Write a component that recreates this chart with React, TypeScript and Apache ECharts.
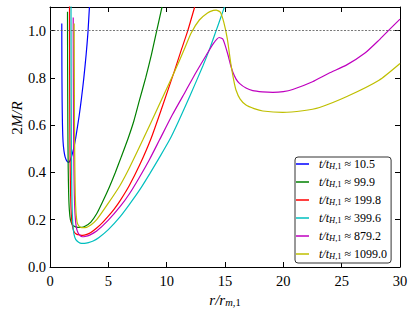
import React, { useEffect, useRef } from 'react';
import * as echarts from 'echarts';

const FONT = 'Liberation Serif';

// t / t_{H,1} values shown in the legend
const tValues = ['10.5', '99.9', '199.8', '399.6', '879.2', '1099.0'];
const colors = ['#0000ff', '#008000', '#ff0000', '#00bfbf', '#bf00bf', '#bfbf00'];

const blueX = [1.01, 1.02, 1.04, 1.07, 1.12, 1.2, 1.3, 1.45, 1.6, 1.72, 1.85, 2.0, 2.2, 2.5, 2.7, 2.9, 3.1, 3.25, 3.38];
const blueY = [1.03, 0.85, 0.7, 0.6, 0.53, 0.49, 0.465, 0.448, 0.443, 0.45, 0.468, 0.495, 0.545, 0.64, 0.715, 0.8, 0.9, 0.99, 1.1];

const greenX = [1.5, 1.51, 1.53, 1.56, 1.6, 1.66, 1.75, 1.9, 2.1, 2.4, 2.7, 3.0, 3.5, 4.0, 4.5, 5.1, 5.6, 6.1, 6.7, 7.2, 7.67, 8.2, 8.7, 9.15, 9.6];
const greenY = [1.08, 0.85, 0.6, 0.42, 0.31, 0.24, 0.2, 0.18, 0.172, 0.168, 0.168, 0.172, 0.19, 0.225, 0.275, 0.34, 0.4, 0.465, 0.545, 0.62, 0.706, 0.8, 0.9, 1.0, 1.1];

const redX = [1.67, 1.68, 1.7, 1.73, 1.77, 1.83, 1.92, 2.05, 2.3, 2.6, 2.8, 3.1, 3.5, 4.0, 4.5, 5.0, 5.5, 6.0, 6.8, 7.67, 8.67, 9.6, 10.67, 11.2, 11.81, 12.4];
const redY = [1.15, 0.85, 0.6, 0.42, 0.3, 0.22, 0.175, 0.15, 0.138, 0.135, 0.134, 0.137, 0.146, 0.165, 0.188, 0.215, 0.245, 0.28, 0.345, 0.43, 0.545, 0.675, 0.83, 0.91, 1.0, 1.1];

const cyanX = [1.8, 1.81, 1.83, 1.86, 1.9, 1.96, 2.05, 2.2, 2.45, 2.7, 2.95, 3.3, 3.7, 4.2, 5.0, 6.0, 6.81, 7.67, 8.53, 9.4, 10.24, 11.0, 12.0, 13.1, 13.7, 14.24, 14.6, 14.95];
const cyanY = [1.15, 0.85, 0.55, 0.36, 0.25, 0.18, 0.14, 0.117, 0.105, 0.1, 0.1, 0.103, 0.11, 0.125, 0.158, 0.212, 0.265, 0.325, 0.393, 0.465, 0.537, 0.615, 0.725, 0.85, 0.925, 1.0, 1.05, 1.1];

const magentaX = [1.99, 2.0, 2.02, 2.05, 2.09, 2.15, 2.25, 2.4, 2.6, 2.76, 3.0, 3.4, 4.0, 5.0, 6.0, 6.81, 7.67, 8.53, 9.38, 10.5, 11.67, 12.5, 13.38, 14.0, 14.5, 14.8, 15.0, 15.24, 15.45, 15.66, 15.95, 16.24, 16.8, 17.38, 18.2, 19.1, 20.0, 20.8, 22.5, 23.9, 25.4, 27.0, 28.2, 29.0, 30.0];
const magentaY = [1.056, 0.85, 0.6, 0.42, 0.3, 0.22, 0.17, 0.145, 0.132, 0.128, 0.129, 0.135, 0.152, 0.198, 0.255, 0.31, 0.38, 0.455, 0.537, 0.645, 0.748, 0.822, 0.895, 0.945, 0.971, 0.965, 0.94, 0.9, 0.86, 0.826, 0.795, 0.777, 0.757, 0.746, 0.741, 0.739, 0.742, 0.751, 0.784, 0.82, 0.854, 0.905, 0.96, 1.0, 1.049];

const yellowX = [2.07, 2.08, 2.1, 2.13, 2.17, 2.23, 2.32, 2.45, 2.7, 3.0, 3.5, 4.0, 5.0, 6.0, 6.81, 7.95, 9.3, 10.67, 11.5, 12.1, 12.8, 13.5, 14.0, 14.24, 14.6, 14.9, 15.2, 15.5, 15.75, 15.95, 16.3, 16.8, 17.5, 18.24, 19.95, 21.66, 23.1, 25.4, 28.2, 30.0];
const yellowY = [1.03, 0.85, 0.6, 0.42, 0.3, 0.23, 0.19, 0.175, 0.167, 0.167, 0.178, 0.2, 0.27, 0.345, 0.42, 0.537, 0.68, 0.826, 0.92, 0.99, 1.045, 1.075, 1.086, 1.087, 1.078, 1.035, 0.965, 0.86, 0.79, 0.748, 0.71, 0.685, 0.67, 0.66, 0.654, 0.661, 0.675, 0.72, 0.79, 0.861];

const xsList = [blueX, greenX, redX, cyanX, magentaX, yellowX];
const ysList = [blueY, greenY, redY, cyanY, magentaY, yellowY];

const yTickValues = [0, 0.2, 0.4, 0.6, 0.8, 1.0];
const refLevel = 1.0;

const zip = (xs: number[], ys: number[]) => xs.map((x, i) => [x, ys[i]]);

const legendRich = {
  a: { fontFamily: FONT, fontStyle: 'italic', fontSize: 12, lineHeight: 12, verticalAlign: 'bottom', color: '#000', padding: [0, 0, 0, 5] },
  si: { fontFamily: FONT, fontStyle: 'italic', fontSize: 8.5, lineHeight: 4, verticalAlign: 'bottom', color: '#000' },
  s: { fontFamily: FONT, fontSize: 8.5, lineHeight: 4, verticalAlign: 'bottom', color: '#000' },
  n: { fontFamily: FONT, fontSize: 12, lineHeight: 12, verticalAlign: 'bottom', color: '#000' },
};

const nameRich = {
  i: { fontFamily: FONT, fontStyle: 'italic', fontSize: 15, lineHeight: 16, verticalAlign: 'bottom', color: '#000' },
  n: { fontFamily: FONT, fontSize: 15, lineHeight: 16, verticalAlign: 'bottom', color: '#000' },
  si: { fontFamily: FONT, fontStyle: 'italic', fontSize: 10.5, lineHeight: 5, verticalAlign: 'bottom', color: '#000' },
  s: { fontFamily: FONT, fontSize: 10.5, lineHeight: 5, verticalAlign: 'bottom', color: '#000' },
};

const axisCommon = {
  axisLine: { show: true, onZero: false, lineStyle: { color: '#000', width: 1 } },
  axisTick: { show: true, inside: true, length: 5, lineStyle: { color: '#000', width: 1 } },
  splitLine: { show: false },
};

function buildOption() {
  const series: any[] = tValues.map((t, k) => ({
    type: 'line',
    name: `t/tH,1 ≈ ${t}`,
    data: zip(xsList[k], ysList[k]),
    showSymbol: false,
    symbol: 'none',
    smooth: 0.2,
    clip: true,
    color: colors[k],
    lineStyle: { color: colors[k], width: 1.2 },
    z: 3,
  }));
  series[0].markLine = {
    silent: true,
    symbol: 'none',
    label: { show: false },
    lineStyle: { type: [2, 1.5], color: '#555', width: 0.8 },
    data: [{ yAxis: refLevel }],
  };
  return {
    animation: false,
    backgroundColor: '#fff',
    grid: { left: 50, right: 15, top: 7, bottom: 47, containLabel: false },
    xAxis: [
      {
        type: 'value', min: 0, max: 30, interval: 5, position: 'bottom',
        ...axisCommon,
        axisLabel: { fontFamily: FONT, fontSize: 14.5, color: '#000', margin: 6 },
        name: '{i|r/r}{si|m}{s|,1}',
        nameLocation: 'middle',
        nameGap: 24,
        nameTextStyle: { rich: nameRich },
      },
      {
        type: 'value', min: 0, max: 30, interval: 5, position: 'top',
        ...axisCommon,
        axisLabel: { show: false },
      },
    ],
    yAxis: [
      {
        type: 'value', min: 0, max: 1.1, interval: 0.2, position: 'left',
        ...axisCommon,
        axisLabel: {
          fontFamily: FONT, fontSize: 14.5, color: '#000', margin: 4,
          formatter: (v: number) => (yTickValues.some((t) => Math.abs(t - v) < 1e-6) ? v.toFixed(1) : ''),
        },
      },
      {
        type: 'value', min: 0, max: 1.1, interval: 0.2, position: 'right',
        ...axisCommon,
        axisLabel: { show: false },
      },
    ],
    legend: {
      left: 295,
      top: 157,
      orient: 'vertical',
      itemWidth: 13,
      itemHeight: 1.5,
      itemGap: 6,
      icon: 'rect',
      padding: [1, 4, 3, 1],
      backgroundColor: '#fff',
      borderColor: '#333',
      borderWidth: 1,
      borderRadius: 3,
      selectedMode: false,
      formatter: (name: string) => {
        const v = name.split('≈ ')[1];
        return `{a|t/t}{si|H}{s|,1}{n| ≈ ${v}}`;
      },
      textStyle: { rich: legendRich },
      data: series.map((s) => s.name),
    },
    graphic: [
      {
        type: 'text',
        x: 16,
        y: 118,
        rotation: Math.PI / 2,
        style: {
          text: '{n|2}{i|M/R}',
          align: 'center',
          verticalAlign: 'middle',
          rich: nameRich,
        },
      },
    ],
    series,
  };
}

export default function App() {
  const ref = useRef<HTMLDivElement>(null);
  useEffect(() => {
    const chart = echarts.init(ref.current!, null, { renderer: 'svg' });
    chart.setOption(buildOption() as any);
    return () => chart.dispose();
  }, []);
  return (
    <div
      ref={ref}
      style={{ position: 'fixed', left: 0, top: 0, width: 415, height: 314 }}
    />
  );
}
